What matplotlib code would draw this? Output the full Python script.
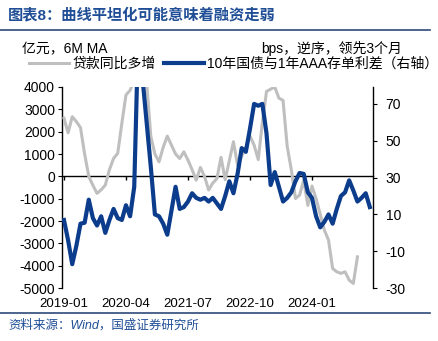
import numpy as np
import pandas as pd
import matplotlib
matplotlib.use("Agg")
from matplotlib import pyplot as plt
from matplotlib.lines import Line2D

plt.rcParams['font.family'] = ['Liberation Sans', 'Noto Sans CJK SC', 'DejaVu Sans']
plt.rcParams['axes.unicode_minus'] = False

# monthly, from 2019-01
months = pd.period_range('2019-01', periods=75, freq='M').strftime('%Y-%m').tolist()

# 贷款同比多增, 6M MA (亿元)
loans = [2600, 1950, 2670, 2450, 2180, 1000, 0, -400, -760, -600,
         -390, 300, 800, 1030, 2370, 3640, 3850, 4300, 5500, 5500,
         4200, 1800, 1000, 650, 1300, 1800, 1400, 1000, 800, 1100,
         730, 300, -170, 400, 0, -610, -300, -100, 850, -150,
         700, 1550, 500, 900, 1300, 1800, 1400, 750, 2400, 3800,
         3900, 4000, 3500, 3400, 1350, 300, -990, -840, -170, -1300,
         -430, -1000, -1700, -2400, -2850, -4120, -4270, -4340, -4270, -4640,
         -4790, -3600]

# 10年国债与1年AAA存单利差 (bps), 领先3个月
spread = [7, -4, -17, -7, 5, 5.5, 18, 8, 4, 9,
          0, 7, 13, 8, 7, 15, 9, 25, 110, 84,
          60, 36, 10, 9, 5, -1, 12, 25, 13, 14,
          17, 21.5, 19, 18, 19, 17, 19, 16, 13, 20,
          28, 21.5, 32, 46, 44, 56.5, 70, 69, 70, 54,
          26, 33, 25, 17, 19, 22, 28, 32.5, 32, 22,
          19, 9, 3, 6, 10, 5, 13, 20, 22, 28.5,
          23, 17, 19, 21.5, 14]

tick_labels = ['2019-01', '2020-04', '2021-07', '2022-10', '2024-01']
left_ticks = np.arange(-5000, 4001, 1000)
right_ticks = np.arange(-30, 71, 20)

gray = '#BFBFBF'
navy = '#0C3C8C'
title_blue = '#1F4E96'

fig = plt.figure(figsize=(4.39, 3.41), dpi=100)
ax = fig.add_axes([0.141, 0.155, 0.709, 0.59])
ax2 = ax.twinx()

x_loans = np.arange(len(loans))
x_spread = np.arange(len(spread))
ax.plot(x_loans, loans, color=gray, lw=2.2, zorder=3)
ax2.plot(x_spread, spread, color=navy, lw=3.0, zorder=3)

ax.set_ylim(-5000, 4000)
ax2.set_ylim(-30, 79.2)
ax.set_xlim(-0.5, 74.8)
ax.set_yticks(left_ticks)
ax2.set_yticks(right_ticks)

# x axis line sits at zero, labels at the bottom
ax.spines['bottom'].set_position(('data', 0))
ax.spines['bottom'].set_linewidth(1.0)
ax.spines['bottom'].set_zorder(2)
xt = [months.index(t) for t in tick_labels]
ax.set_xticks(xt)
ax.set_xticklabels([])
ax.tick_params(axis='x', direction='out', length=3, width=1)
sec = ax.secondary_xaxis('bottom')
sec.set_xticks(xt)
sec.set_xticklabels(tick_labels, fontsize=9.5)
sec.tick_params(length=0, pad=7)
sec.spines['bottom'].set_visible(False)

for s in ['top', 'right']:
    ax.spines[s].set_visible(False)
for s in ['top', 'bottom', 'left']:
    ax2.spines[s].set_visible(False)
ax.spines['left'].set_linewidth(1.0)
ax2.spines['right'].set_linewidth(1.0)
ax.tick_params(axis='y', direction='out', length=3, labelsize=10, pad=2)
ax2.tick_params(axis='y', direction='out', length=3, labelsize=10, pad=6)

handles = [Line2D([], [], color=gray, lw=2.2), Line2D([], [], color=navy, lw=3.0)]
fig.legend(handles, ['贷款同比多增', '10年国债与1年AAA存单利差（右轴）'],
           loc='center left', bbox_to_anchor=(0.066, 1 - 64 / 341), ncol=2,
           frameon=False, fontsize=10, handlelength=2.9, handletextpad=0.2,
           columnspacing=0.6, borderaxespad=0, borderpad=0)

fig.text(22 / 439, 1 - 49 / 341, '亿元，6M MA', fontsize=10, va='center', ha='left')
fig.text(402 / 439, 1 - 49 / 341, 'bps，逆序，领先3个月', fontsize=10, va='center', ha='right')

fig.text(8 / 439, 1 - 15 / 341, '图表8：曲线平坦化可能意味着融资走弱', fontsize=11, fontweight='bold',
         color=title_blue, va='center', ha='left')
fig.add_artist(Line2D([0, 430 / 439], [1 - 30 / 341, 1 - 30 / 341], color='#2E4A7A', lw=1.2))
fig.add_artist(Line2D([0, 430 / 439], [1 - 313 / 341, 1 - 313 / 341], color='#2E4A7A', lw=1.2))
fig.text(8 / 439, 1 - 325 / 341, '资料来源：Wind，国盛证券研究所', fontsize=9, style='italic',
         color=title_blue, va='center', ha='left')

fig.savefig('out.png', dpi=100)
